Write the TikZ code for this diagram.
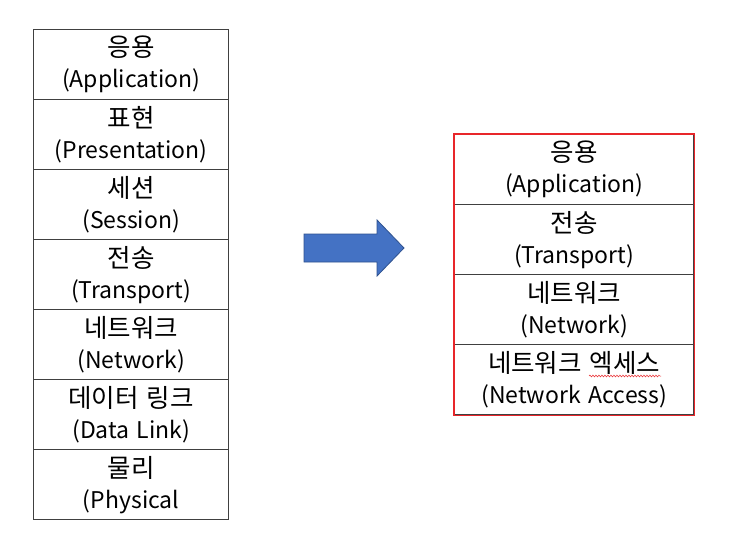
\documentclass[tikz,border=0pt]{standalone}
\usepackage{fontspec}
\setmainfont{Noto Sans CJK KR}
\usetikzlibrary{decorations.pathmorphing}
\definecolor{linegray}{HTML}{404040}
\definecolor{arrowblue}{HTML}{4472C4}
\definecolor{arrowedge}{HTML}{2F528F}
\definecolor{boxred}{HTML}{E8262A}
\newcommand{\krtext}[1]{{\fontsize{25.5}{31}\selectfont #1}}
\begin{document}
\begin{tikzpicture}[x=1pt,y=-1pt,
  cell/.style={draw=linegray, line width=1.3pt, minimum height=70pt, align=center,
    font=\fontsize{23}{31}\selectfont, inner sep=0pt, anchor=north west},
  lcell/.style={cell, minimum width=195pt},
  rcell/.style={cell, minimum width=239pt}]
\useasboundingbox (0,0) rectangle (738,540);
\fill[white] (0,0) rectangle (738,540);
% left stack
\node[lcell] (l1) at (33,29)  {\krtext{응용}\\(Application)};
\node[lcell] (l2) at (33,99)  {\krtext{표현}\\(Presentation)};
\node[lcell] (l3) at (33,169) {\krtext{세션}\\(Session)};
\node[lcell] (l4) at (33,239) {\krtext{전송}\\(Transport)};
\node[lcell] (l5) at (33,309) {\krtext{네트워크}\\(Network)};
\node[lcell] (l6) at (33,379) {\krtext{데이터\hspace{8pt}링크}\\(Data\hspace{7pt}Link)};
\node[lcell] (l7) at (33,449) {\krtext{물리}\\(Physical};
% right stack
\node[rcell] (r1) at (454,134) {\krtext{응용}\\(Application)};
\node[rcell] (r2) at (454,204) {\krtext{전송}\\(Transport)};
\node[rcell] (r3) at (454,274) {\krtext{네트워크}\\(Network)};
\node[rcell] (r4) at (454,344) {\krtext{네트워크\hspace{8pt}엑세스}\\(Network\hspace{8pt}Access)};
\draw[boxred, line width=1.3pt] (r1.north west) rectangle (r4.south east);
% spell-check squiggle
\coordinate (sqa) at (589,376);
\coordinate (sqb) at (661,376);
\draw[boxred, line width=0.5pt, decorate, decoration={snake, amplitude=0.9pt, segment length=3pt}] (sqa) -- (sqb);
% arrow
\draw[fill=arrowblue, draw=arrowedge, line width=0.8pt]
  (304,234) -- (377,234) -- (377,220) -- (404,248) -- (377,276) -- (377,262) -- (304,262) -- cycle;
\end{tikzpicture}
\end{document}
